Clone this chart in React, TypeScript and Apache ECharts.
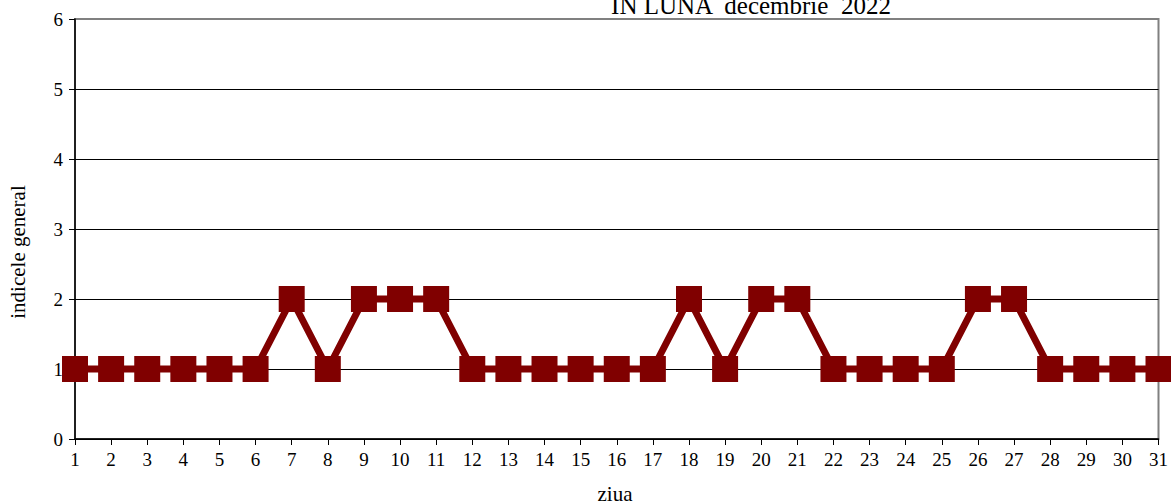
import React, { useEffect, useRef } from "react";
import * as echarts from "echarts";

const days = Array.from({ length: 31 }, (_, i) => String(i + 1));
const values = [1, 1, 1, 1, 1, 1, 2, 1, 2, 2, 2, 1, 1, 1, 1, 1, 1, 2, 1, 2, 2, 1, 1, 1, 1, 2, 2, 1, 1, 1, 1];
const titleText = "ÎN LUNA  decembrie  2022";
const yName = "indicele general";
const xName = "ziua";

export default function App() {
  const ref = useRef<HTMLDivElement>(null);
  useEffect(() => {
    const chart = echarts.init(ref.current!, null, { renderer: "svg" });
    const font = "'Liberation Serif', 'Times New Roman', serif";
    chart.setOption({
      animation: false,
      backgroundColor: "#fff",
      textStyle: { fontFamily: font },
      grid: {
        left: 75, top: 19, right: 12, bottom: 65,
        show: true, borderColor: "#808080", borderWidth: 2,
      },
      graphic: [
        {
          type: "text", x: 751, y: 18,
          style: {
            text: titleText, fontFamily: font, fontSize: 25, fill: "#000",
            textAlign: "center", textVerticalAlign: "bottom",
          },
        },
        {
          type: "text", x: 615, y: 494,
          style: {
            text: xName, fontFamily: font, fontSize: 21, fill: "#000",
            textAlign: "center", textVerticalAlign: "middle",
          },
        },
        {
          type: "text", x: 18, y: 252, rotation: Math.PI / 2,
          style: {
            text: yName, fontFamily: font, fontSize: 21, fill: "#000",
            textAlign: "center", textVerticalAlign: "middle",
          },
        },
      ],
      xAxis: {
        type: "category", data: days, boundaryGap: false,
        axisLine: { lineStyle: { color: "#000", width: 1.5 } },
        axisTick: { show: true, length: 6, lineStyle: { color: "#000" }, alignWithLabel: true, interval: 0 },
        axisLabel: { color: "#000", fontSize: 19, fontFamily: font, margin: 11, interval: 0 },
        splitLine: { show: false },
      },
      yAxis: {
        type: "value", min: 0, max: 6, interval: 1,
        axisLine: { show: true, lineStyle: { color: "#000", width: 1.5 } },
        axisTick: { show: true, length: 6, lineStyle: { color: "#000" } },
        axisLabel: { color: "#000", fontSize: 19, fontFamily: font, margin: 12 },
        splitLine: {
          show: true,
          lineStyle: { color: ["#000", "#000", "#000", "#000", "#000", "#000", "transparent"], width: 1 },
        },
      },
      series: [
        {
          type: "line", data: values,
          symbol: "rect", symbolSize: 26,
          lineStyle: { color: "#800000", width: 7 },
          itemStyle: { color: "#800000" },
        },
      ],
    });
    return () => chart.dispose();
  }, []);
  return <div ref={ref} style={{ position: "fixed", left: 0, top: 0, width: 1171, height: 504 }} />;
}
